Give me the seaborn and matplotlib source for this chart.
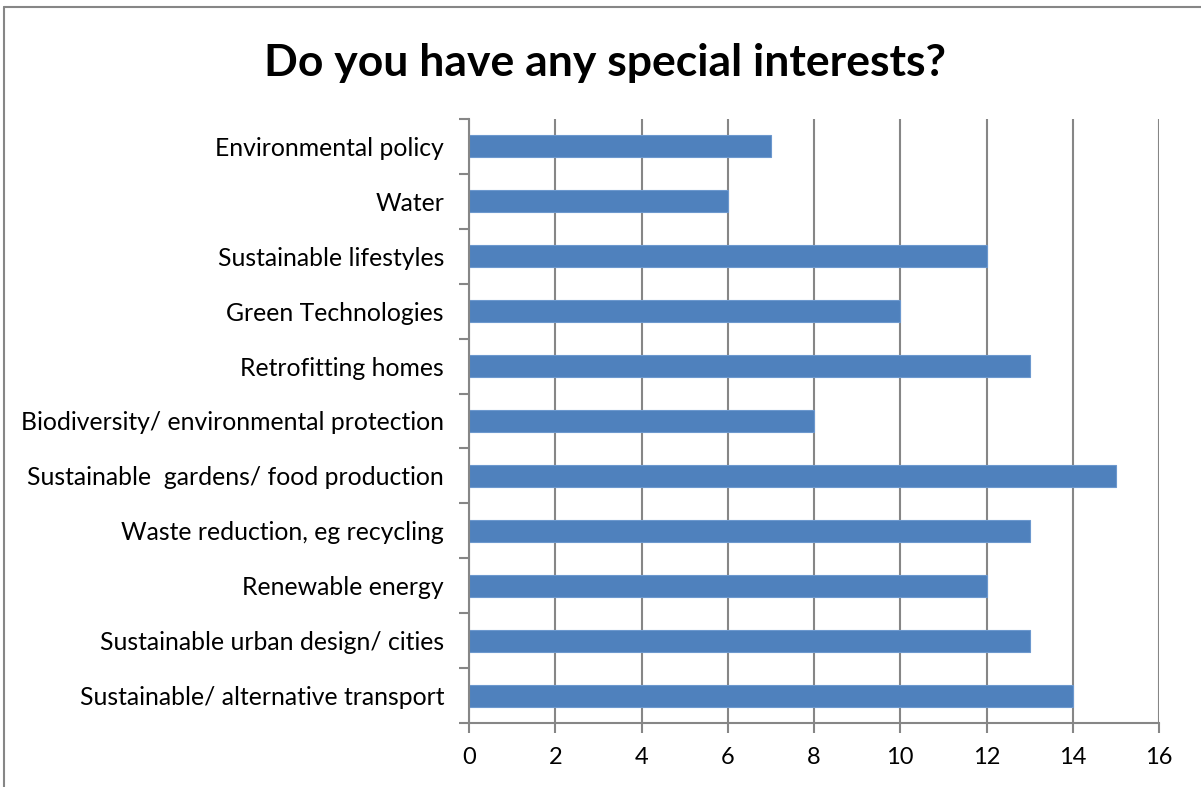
import matplotlib
matplotlib.use("Agg")
import matplotlib.pyplot as plt
import seaborn as sns
import numpy as np
from matplotlib.lines import Line2D
from matplotlib.ticker import FixedLocator

categories = [
    "Environmental policy",
    "Water",
    "Sustainable lifestyles",
    "Green Technologies",
    "Retrofitting homes",
    "Biodiversity/ environmental protection",
    "Sustainable  gardens/ food production",
    "Waste reduction, eg recycling",
    "Renewable energy",
    "Sustainable urban design/ cities",
    "Sustainable/ alternative transport",
]
counts = [7, 6, 12, 10, 13, 8, 15, 13, 12, 13, 14]
x_ticks = [0, 2, 4, 6, 8, 10, 12, 14, 16]
title = "Do you have any special interests?"

sns.set_style("white")
plt.rcParams['font.family'] = ['Lato', 'DejaVu Sans']
plt.rcParams['text.color'] = 'black'
plt.rcParams['xtick.color'] = 'black'
plt.rcParams['ytick.color'] = 'black'

fig = plt.figure(figsize=(12.01, 7.87), dpi=100)
ax = fig.add_axes([469/1201, 1-723/787, (1159-469)/1201, (723-119)/787])

grid_c = "#868686"
ax.set_axisbelow(True)
ax.xaxis.grid(True, color=grid_c, linewidth=1.5)
ax.yaxis.grid(False)

sns.barplot(x=counts, y=categories, orient="h", width=0.4, color="#4F81BD",
            edgecolor="#6C98CE", linewidth=0.8, saturation=1, ax=ax)

ax.set_xlim(0, 16)
ax.set_ylim(len(categories) - 0.5, -0.5)
ax.set_xticks(x_ticks)
ax.set_xticklabels([str(v) for v in x_ticks], fontsize=17)
ax.set_yticks(range(len(categories)))
ax.set_yticklabels(categories, fontsize=17.8)
ax.yaxis.set_minor_locator(FixedLocator(np.arange(-0.5, len(categories), 1.0)))
ax.tick_params(axis="y", which="major", left=True, length=0, pad=18, labelcolor="black")
ax.tick_params(axis="y", which="minor", left=True, length=7, color=grid_c, width=1.5, direction="out")
ax.tick_params(axis="x", which="major", bottom=True, length=7, color=grid_c, width=1.5,
               direction="out", pad=10, labelcolor="black")
ax.set_xlabel("")
ax.set_ylabel("")
for s in ["top", "right"]:
    ax.spines[s].set_visible(False)
for s in ["left", "bottom"]:
    ax.spines[s].set_color(grid_c)
    ax.spines[s].set_linewidth(1.5)

fig.text(605/1201, 1-63/787, title, ha="center", va="center",
         fontsize=32, fontweight="bold", color="black")

# figure border (top and left)
fig.add_artist(Line2D([4/1201, 1], [1-7/787, 1-7/787], transform=fig.transFigure,
                      color=grid_c, linewidth=1.5))
fig.add_artist(Line2D([4/1201, 4/1201], [0, 1-7/787], transform=fig.transFigure,
                      color=grid_c, linewidth=1.5))

fig.savefig("out.png", dpi=100)
